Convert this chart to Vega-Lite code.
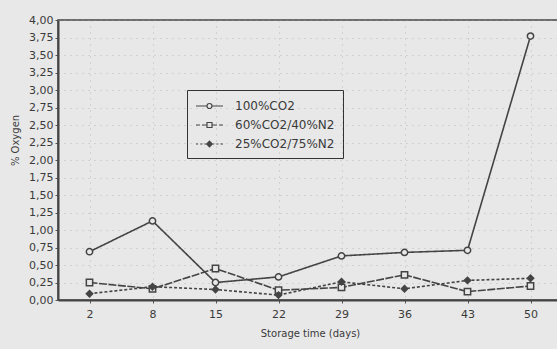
{
  "$schema": "https://vega.github.io/schema/vega-lite/v6.json",
  "width": 504,
  "height": 280,
  "autosize": {"type": "none"},
  "padding": {"left": 58, "top": 20, "right": 0, "bottom": 49},
  "background": "#e8e8e8",
  "config": {
    "font": "DejaVu Sans",
    "view": {"stroke": "#444", "strokeWidth": 1.5},
    "axis": {
      "labelFont": "DejaVu Sans",
      "labelFontSize": 11,
      "labelColor": "#3a3a3a",
      "titleFont": "DejaVu Sans",
      "titleFontSize": 10,
      "titleFontWeight": "normal",
      "titleColor": "#3a3a3a",
      "domainColor": "#444",
      "domainWidth": 2,
      "tickColor": "#555",
      "tickSize": 3,
      "gridColor": "#999",
      "gridDash": [1, 5],
      "gridOpacity": 0.6
    },
    "legend": {
      "labelFont": "DejaVu Sans",
      "labelFontSize": 12,
      "labelColor": "#3a3a3a"
    }
  },
  "data": {
    "values": [
      {"day": "2", "series": "100%CO2", "value": 0.69},
      {"day": "8", "series": "100%CO2", "value": 1.13},
      {"day": "15", "series": "100%CO2", "value": 0.25},
      {"day": "22", "series": "100%CO2", "value": 0.33},
      {"day": "29", "series": "100%CO2", "value": 0.63},
      {"day": "36", "series": "100%CO2", "value": 0.68},
      {"day": "43", "series": "100%CO2", "value": 0.71},
      {"day": "50", "series": "100%CO2", "value": 3.77},
      {"day": "2", "series": "60%CO2/40%N2", "value": 0.25},
      {"day": "8", "series": "60%CO2/40%N2", "value": 0.16},
      {"day": "15", "series": "60%CO2/40%N2", "value": 0.45},
      {"day": "22", "series": "60%CO2/40%N2", "value": 0.14},
      {"day": "29", "series": "60%CO2/40%N2", "value": 0.18},
      {"day": "36", "series": "60%CO2/40%N2", "value": 0.36},
      {"day": "43", "series": "60%CO2/40%N2", "value": 0.12},
      {"day": "50", "series": "60%CO2/40%N2", "value": 0.20},
      {"day": "2", "series": "25%CO2/75%N2", "value": 0.09},
      {"day": "8", "series": "25%CO2/75%N2", "value": 0.19},
      {"day": "15", "series": "25%CO2/75%N2", "value": 0.15},
      {"day": "22", "series": "25%CO2/75%N2", "value": 0.07},
      {"day": "29", "series": "25%CO2/75%N2", "value": 0.26},
      {"day": "36", "series": "25%CO2/75%N2", "value": 0.16},
      {"day": "43", "series": "25%CO2/75%N2", "value": 0.28},
      {"day": "50", "series": "25%CO2/75%N2", "value": 0.31}
    ]
  },
  "encoding": {
    "x": {
      "field": "day",
      "type": "ordinal",
      "sort": ["2", "8", "15", "22", "29", "36", "43", "50"],
      "scale": {"type": "point", "padding": 0.5},
      "axis": {"labelAngle": 0, "title": "Storage time (days)", "titlePadding": 9, "grid": true, "labelPadding": 5}
    },
    "y": {
      "field": "value",
      "type": "quantitative",
      "scale": {"domain": [0, 4], "nice": false},
      "axis": {
        "values": [0, 0.25, 0.5, 0.75, 1, 1.25, 1.5, 1.75, 2, 2.25, 2.5, 2.75, 3, 3.25, 3.5, 3.75, 4],
        "labelExpr": "replace(format(datum.value, '.2f'), '.', ',')",
        "title": "% Oxygen",
        "titleX": -38,
        "titleY": 120,
        "titleAlign": "center",
        "titleBaseline": "bottom",
        "labelPadding": 2,
        "grid": true
      }
    }
  },
  "layer": [
    {
      "mark": {"type": "line", "color": "#444", "strokeWidth": 1.6},
      "encoding": {
        "detail": {"field": "series"},
        "strokeDash": {
          "field": "series",
          "scale": {"domain": ["100%CO2", "60%CO2/40%N2", "25%CO2/75%N2"], "range": [[1, 0], [8, 1.5], [3, 2]]},
          "legend": null
        }
      }
    },
    {
      "mark": {"type": "point", "stroke": "#444", "strokeWidth": 1.5, "opacity": 1, "size": 40},
      "encoding": {
        "shape": {
          "field": "series",
          "scale": {"domain": ["100%CO2", "60%CO2/40%N2", "25%CO2/75%N2"], "range": ["circle", "square", "diamond"]},
          "legend": null
        },
        "fill": {
          "field": "series",
          "scale": {"domain": ["100%CO2", "60%CO2/40%N2", "25%CO2/75%N2"], "range": ["#e8e8e8", "#e8e8e8", "#444"]},
          "legend": null
        }
      }
    },
    {
      "mark": {"type": "point", "stroke": "#444", "strokeWidth": 1.2, "opacity": 0, "size": 196},
      "encoding": {
        "shape": {
          "field": "series",
          "scale": {
            "domain": ["100%CO2", "60%CO2/40%N2", "25%CO2/75%N2"],
            "range": [
              "M-1,0H0.571M1.286,0H2.857M1.286,0A0.357,0.357,0,1,1,0.571,0A0.357,0.357,0,1,1,1.286,0Z",
              "M-1,0H-0.43M-0.14,0H0.571M1.286,0H2.0M2.29,0H2.857M0.571,-0.357H1.286V0.357H0.571Z",
              "M-1,0H-0.7M-0.4,0H-0.1M0.2,0H0.571M1.286,0H1.6M1.9,0H2.2M2.5,0H2.857M0.929,-0.4L1.329,0L0.929,0.4L0.529,0ZM0.929,-0.25L1.179,0L0.929,0.25L0.679,0ZM0.929,-0.1L1.029,0L0.929,0.1L0.829,0Z"
            ]
          },
          "legend": {
            "title": null,
            "orient": "none",
            "legendX": 129,
            "legendY": 70,
            "strokeColor": "#333",
            "padding": 8,
            "symbolSize": 196,
            "symbolOpacity": 1,
            "symbolFillColor": "#e8e8e8",
            "symbolStrokeColor": "#444",
            "symbolStrokeWidth": 1.2,
            "labelOffset": 24,
            "rowPadding": 5
          }
        }
      }
    }
  ],
  "resolve": {"scale": {"shape": "independent"}, "legend": {"shape": "independent"}}
}
